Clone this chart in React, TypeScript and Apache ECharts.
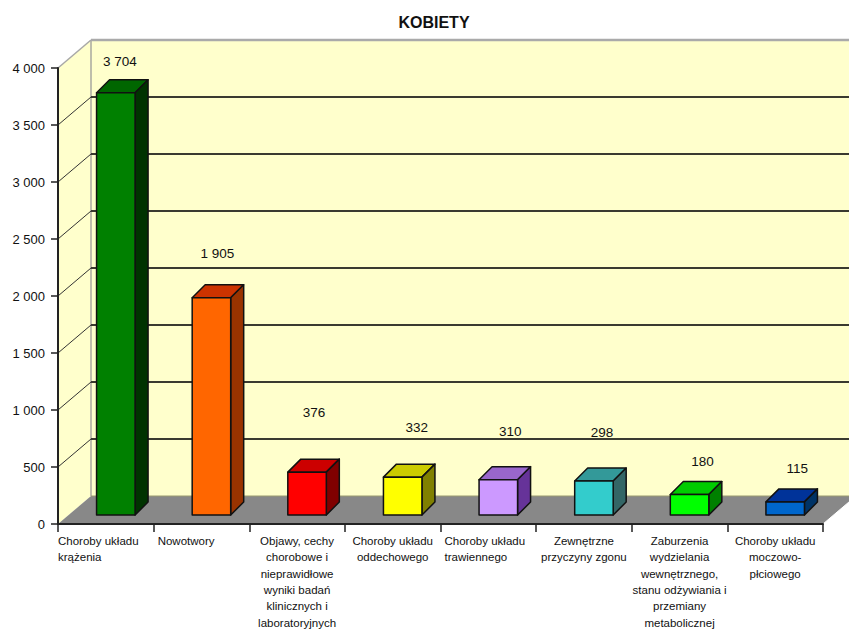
import React, { useEffect, useRef } from "react";
import * as echarts from "echarts";

const TITLE = "KOBIETY";
const CATEGORIES = [
  "Choroby układu\nkrążenia",
  "Nowotwory",
  "Objawy, cechy\nchorobowe i\nnieprawidłowe\nwyniki badań\nklinicznych i\nlaboratoryjnych",
  "Choroby układu\noddechowego",
  "Choroby układu\ntrawiennego",
  "Zewnętrzne\nprzyczyny zgonu",
  "Zaburzenia\nwydzielania\nwewnętrznego,\nstanu odżywiania i\nprzemiany\nmetabolicznej",
  "Choroby układu\nmoczowo-\npłciowego",
];
const VALUES = [3704, 1905, 376, 332, 310, 298, 180, 115];
const Y_TICKS = [0, 500, 1000, 1500, 2000, 2500, 3000, 3500, 4000];

const FRONT = ["#008000", "#FF6600", "#FF0000", "#FFFF00", "#CC99FF", "#33CCCC", "#00FF00", "#0066CC"];
const TOP = ["#006600", "#CC3300", "#CC0000", "#CCCC00", "#9966CC", "#339999", "#00CC00", "#003399"];
const SIDE = ["#003300", "#993300", "#800000", "#808000", "#663399", "#336666", "#008000", "#003366"];

const LABEL_NUDGE = [[4, -18], [6, -31], [7, -47], [14, -37], [12, -35], [8, -36], [13, -20], [12, -20]];
const LEFT_INSET = [0, 4, -1, -1, 4, -1, -1, -1];

const WALL_DX = 33;
const WALL_DY = 28;
const BAR_DX = 10;
const BAR_DY = 9;
const BAR_W = 38.5;
const BAR_DEPTH = 13;
const FONT = "'Liberation Sans', Arial, sans-serif";
const fmt = (v: number) => String(v).replace(/\B(?=(\d{3})+$)/g, " ");

const poly = (points: number[][], fill: string, stroke: string, lineWidth: number) => ({
  type: "polygon",
  shape: { points },
  style: { fill, stroke, lineWidth, lineJoin: "round" },
});
const seg = (a: number[], b: number[], stroke: string, lineWidth: number) => ({
  type: "line",
  shape: { x1: a[0], y1: a[1], x2: b[0], y2: b[1] },
  style: { stroke, lineWidth },
});

function renderWalls(params: any, api: any) {
  const v = api.value(0);
  const y = api.coord([0, v])[1];
  const left = params.coordSys.x;
  const right = left + params.coordSys.width;
  const y0 = api.coord([0, 0])[1];
  const yMax = api.coord([0, Y_TICKS[Y_TICKS.length - 1]])[1];
  const children: any[] = [];
  if (params.dataIndex === 0) {
    children.push(
      poly([[left + WALL_DX, yMax - WALL_DY], [right + WALL_DX, yMax - WALL_DY], [right + WALL_DX, y0 - WALL_DY], [left + WALL_DX, y0 - WALL_DY]], "#FFFFCC", "none", 0),
      poly([[left, yMax], [left + WALL_DX, yMax - WALL_DY], [left + WALL_DX, y0 - WALL_DY], [left, y0]], "#FFFFCC", "none", 0),
      poly([[left, y0], [right, y0], [right + WALL_DX, y0 - WALL_DY], [left + WALL_DX, y0 - WALL_DY]], "#888888", "none", 0),
      seg([left + WALL_DX, yMax - WALL_DY], [left + WALL_DX, y0 - WALL_DY], "#A8A8A0", 1.5),
      seg([left, yMax], [left + WALL_DX, yMax - WALL_DY], "#A8A8A8", 1.5),
      seg([right, y0], [right + WALL_DX, y0 - WALL_DY], "#FFFFFF", 1),
    );
  }
  if (v > 0) {
    const top = v === Y_TICKS[Y_TICKS.length - 1];
    children.push(seg([left + WALL_DX, y - WALL_DY], [right + WALL_DX, y - WALL_DY], top ? "#AAAAAA" : "#3A3A30", top ? 2.5 : 2));
    if (!top) children.push(seg([left, y], [left + WALL_DX, y - WALL_DY], "#333333", 1));
  } else {
    children.push(seg([left + WALL_DX, y - WALL_DY], [right + WALL_DX, y - WALL_DY], "#9A9A70", 1));
  }
  return { type: "group", children };
}

function renderBars(params: any, api: any) {
  const i = params.dataIndex;
  const cat = api.value(0);
  const val = api.value(1);
  const [cx, yTop] = api.coord([cat, val]);
  const yBase = api.coord([cat, 0])[1];
  const x0 = cx + BAR_DX - BAR_W / 2;
  const x1 = x0 + BAR_W;
  const t = yTop - BAR_DY;
  const b = yBase - BAR_DY;
  const d = BAR_DEPTH;
  const stroke = "#111111";
  return {
    type: "group",
    children: [
      poly([[x0, t], [x1, t], [x1 + d, t - d], [x0 + d, t - d]], TOP[i], stroke, 1.5),
      poly([[x1, t], [x1 + d, t - d], [x1 + d, b - d], [x1, b]], SIDE[i], stroke, 1.5),
      poly([[x0, t], [x1, t], [x1, b], [x0, b]], FRONT[i], stroke, 1.5),
      {
        type: "text",
        style: {
          text: fmt(val),
          x: cx + BAR_DX + LABEL_NUDGE[i][0],
          y: t - d + LABEL_NUDGE[i][1],
          align: "center",
          verticalAlign: "middle",
          fill: "#111111",
          font: `13.5px ${FONT}`,
        },
      },
    ],
  };
}

function xRich() {
  const rich: Record<string, any> = {
    c: { align: "center", lineHeight: 16.3, fontSize: 11.5, fontFamily: FONT, color: "#111" },
  };
  LEFT_INSET.forEach((inset) => {
    if (inset >= 0) {
      rich[`l${inset}`] = {
        align: "left",
        width: 95.6 - inset,
        padding: [0, 0, 0, inset],
        lineHeight: 16.3,
        fontSize: 11.5,
        fontFamily: FONT,
        color: "#111",
      };
    }
  });
  return rich;
}

export default function App() {
  const ref = useRef<HTMLDivElement>(null);
  useEffect(() => {
    const chart = echarts.init(ref.current!, undefined, { renderer: "svg" });
    chart.setOption({
      animation: false,
      backgroundColor: "#FFFFFF",
      title: {
        text: TITLE,
        left: 429,
        top: 9,
        textAlign: "center",
        textStyle: { fontFamily: FONT, fontSize: 16, fontWeight: "bold", color: "#111" },
      },
      grid: { left: 58, top: 68, width: 765, height: 456, containLabel: false },
      xAxis: {
        type: "category",
        data: CATEGORIES,
        z: 5,
        axisLine: { lineStyle: { color: "#222", width: 2 } },
        axisTick: { show: true, length: 8, lineStyle: { color: "#222", width: 1.5 } },
        axisLabel: {
          interval: 0,
          margin: 9,
          hideOverlap: false,
          formatter: (value: string, index: number) => {
            const inset = LEFT_INSET[index];
            const key = inset >= 0 ? `l${inset}` : "c";
            return value.split("\n").map((line) => `{${key}|${line}}`).join("\n");
          },
          rich: xRich(),
        },
      },
      yAxis: {
        type: "value",
        min: 0,
        max: 4000,
        interval: 500,
        z: 5,
        splitLine: { show: false },
        axisLine: { show: true, lineStyle: { color: "#222", width: 2 } },
        axisTick: { show: true, length: 7, lineStyle: { color: "#222", width: 1.5 } },
        axisLabel: {
          margin: 13,
          formatter: (v: number) => fmt(v),
          fontFamily: FONT,
          fontSize: 13,
          color: "#111",
        },
      },
      series: [
        {
          type: "custom",
          z: 1,
          clip: false,
          silent: true,
          renderItem: renderWalls,
          encode: { y: 0 },
          data: Y_TICKS.map((v) => [v]),
        },
        {
          type: "custom",
          z: 3,
          clip: false,
          silent: true,
          renderItem: renderBars,
          encode: { x: 0, y: 1 },
          data: VALUES.map((v, i) => [i, v]),
        },
      ],
    });
    return () => chart.dispose();
  }, []);
  return <div ref={ref} style={{ position: "absolute", left: 0, top: 0, width: 849, height: 629 }} />;
}
